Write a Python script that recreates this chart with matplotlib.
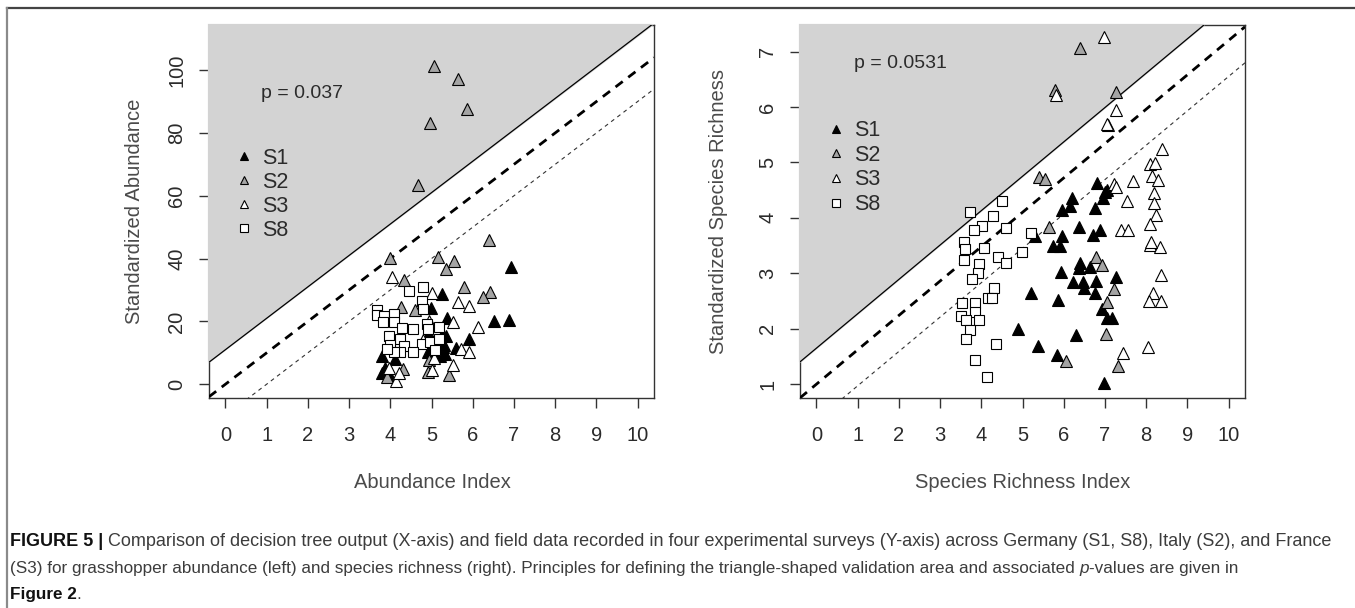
import matplotlib
matplotlib.use("Agg")
import matplotlib.pyplot as plt
from matplotlib.lines import Line2D
import numpy as np

plt.rcParams['font.family'] = ['Liberation Sans', 'DejaVu Sans']
plt.rcParams['lines.scale_dashes'] = False

# ---------------- data: left panel (abundance) ----------------
ab_s1_x = [6.92, 6.51, 6.87, 5.92, 5.25, 4.99, 5.37, 3.79, 3.81, 4.12, 3.87, 5.35, 5.29, 5.17,
           4.88, 4.92, 5.21, 5.59, 5.33, 5.25, 4.95, 5.30, 4.00]
ab_s1_y = [37.3, 20.2, 20.5, 14.4, 28.8, 24.3, 21.1, 9.1, 3.7, 8.0, 5.3, 15.4, 11.9, 13.9,
           14.9, 10.1, 9.1, 11.5, 9.6, 15.8, 16.0, 12.6, 2.5]
ab_s2_x = [5.07, 5.65, 5.86, 4.97, 4.67, 6.40, 4.00, 5.15, 5.55, 5.35, 4.33, 5.79, 6.42, 6.25,
           4.25, 4.61, 4.91, 5.43, 3.93, 4.32, 4.94]
ab_s2_y = [101.3, 97.2, 87.7, 83.2, 63.4, 46.0, 40.1, 40.4, 39.2, 36.7, 33.2, 31.1, 29.3, 27.8,
           24.5, 23.7, 4.0, 3.0, 2.4, 4.8, 7.8]
ab_s3_x = [4.04, 5.65, 5.92, 6.14, 5.51, 5.71, 5.92, 5.53, 4.14, 3.96, 4.20, 5.02, 5.02, 4.95,
           5.05, 4.80]
ab_s3_y = [34.1, 26.3, 25.0, 18.1, 19.7, 11.2, 10.1, 6.2, 1.1, 5.0, 3.5, 4.6, 29.1, 20.0,
           8.3, 14.0]
ab_s8_x = [4.80, 4.45, 3.67, 3.67, 3.85, 4.09, 4.76, 4.79, 3.83, 4.08, 4.28, 4.56, 3.97, 4.24,
           3.99, 4.33, 4.76, 4.96, 5.17, 4.90, 5.17, 4.24, 4.56, 4.08, 3.91, 4.92, 5.09]
ab_s8_y = [30.9, 29.6, 23.6, 22.0, 21.8, 22.4, 26.6, 24.0, 19.7, 19.7, 17.9, 17.6, 15.4, 14.4,
           12.6, 12.3, 12.8, 13.3, 14.4, 19.2, 18.1, 10.1, 10.1, 10.1, 11.2, 17.6, 11.0]

# ---------------- data: right panel (species richness) ----------------
sr_s1_x = [6.81, 7.00, 7.05, 6.96, 6.19, 6.15, 5.97, 6.76, 6.38, 6.88, 6.70, 5.95, 5.75, 5.91,
           5.30, 6.39, 6.38, 6.65, 5.93, 7.26, 6.23, 6.47, 6.78, 6.49, 6.76, 5.20, 5.87, 6.92,
           7.05, 7.18, 6.31, 4.90, 5.38, 5.83, 6.98]
sr_s1_y = [4.63, 4.47, 4.51, 4.35, 4.35, 4.21, 4.14, 4.18, 3.83, 3.78, 3.69, 3.67, 3.50, 3.49,
           3.67, 3.19, 3.09, 3.12, 3.03, 2.94, 2.85, 2.85, 2.86, 2.74, 2.65, 2.65, 2.52, 2.35,
           2.20, 2.20, 1.88, 2.00, 1.69, 1.53, 1.02]
sr_s2_x = [6.39, 5.79, 7.28, 7.07, 5.40, 5.54, 5.65, 6.78, 6.92, 7.22, 7.05, 7.02, 6.05, 7.32]
sr_s2_y = [7.06, 6.31, 6.28, 5.67, 4.74, 4.71, 3.84, 3.30, 3.15, 2.71, 2.49, 1.90, 1.42, 1.33]
sr_s3_x = [6.97, 5.82, 7.28, 7.05, 8.39, 8.10, 8.21, 8.15, 8.29, 7.67, 7.22, 7.28, 8.18, 8.18,
           7.54, 8.23, 8.09, 7.40, 7.56, 8.09, 8.33, 8.13, 8.37, 8.17, 8.07, 8.35, 8.05, 7.43]
sr_s3_y = [7.26, 6.22, 5.95, 5.70, 5.24, 4.97, 4.99, 4.75, 4.69, 4.67, 4.61, 4.56, 4.45, 4.27,
           4.31, 4.05, 3.89, 3.79, 3.79, 3.51, 3.48, 3.57, 2.97, 2.65, 2.50, 2.50, 1.67, 1.57]
sr_s8_x = [3.73, 4.50, 4.28, 4.01, 3.83, 4.59, 5.20, 3.57, 3.61, 4.07, 3.58, 3.95, 4.41, 4.59,
           4.98, 3.93, 3.77, 4.32, 4.17, 4.27, 3.53, 3.85, 3.85, 3.50, 3.63, 3.94, 3.73, 3.62,
           4.35, 3.85, 4.13]
sr_s8_y = [4.11, 4.31, 4.04, 3.85, 3.78, 3.81, 3.73, 3.57, 3.43, 3.45, 3.24, 3.17, 3.29, 3.18,
           3.39, 3.00, 2.90, 2.73, 2.55, 2.56, 2.46, 2.46, 2.30, 2.23, 2.15, 2.15, 1.97, 1.82,
           1.72, 1.43, 1.12]

# reference lines: slope and intercepts (upper, middle, lower)
ab_slope = 10.0
ab_intercepts = [11.0, 0.0, -10.0]
sr_slope = 0.62
sr_intercepts = [1.65, 1.0, 0.35]

x_ticks = list(range(0, 11))
ab_yticks = [0, 20, 40, 60, 80, 100]
sr_yticks = [1, 2, 3, 4, 5, 6, 7]
series_labels = ['S1', 'S2', 'S3', 'S8']
p_texts = ['p = 0.037', 'p = 0.0531']

# ---------------- figure ----------------
W, H = 1355, 608
fig = plt.figure(figsize=(W / 100, H / 100), dpi=100)

def frac_x(px):
    return px / W

def frac_y(py):
    return 1 - py / H

ax_w = (654 - 209) / W
ax_h = (398 - 25) / H
axL = fig.add_axes([frac_x(209), frac_y(398), ax_w, ax_h])
axR = fig.add_axes([frac_x(800), frac_y(398), ax_w, ax_h])

S2_GRAY = '#a4a4a4'
SHADE = '#d3d3d3'
TXT = '#2b2b2b'
LAB = '#4a4a4a'
MS = 8.5
SQ = 7.0

def draw_panel(ax, s1, s2, s3, s8, slope, icepts, ylim, yticks, ptext, ptxt_pos, leg_anchor,
               leg_spacing):
    xlim = (-0.4, 10.4)
    ax.set_xlim(*xlim)
    ax.set_ylim(*ylim)
    # shaded triangle above upper line
    b = icepts[0]
    x0 = xlim[0]
    y0 = b + slope * x0
    xt = (ylim[1] - b) / slope
    poly_x = [x0, x0, xt]
    poly_y = [y0, ylim[1], ylim[1]]
    if xt > xlim[1]:
        poly_x = [x0, x0, xlim[1], xlim[1]]
        poly_y = [y0, ylim[1], ylim[1], b + slope * xlim[1]]
    ax.fill(poly_x, poly_y, facecolor=SHADE, edgecolor=SHADE, linewidth=1.6, zorder=3,
            clip_on=False)
    xs = np.array(xlim)
    ax.plot(xs, icepts[0] + slope * xs, color='black', lw=0.9, zorder=4)
    ax.plot(xs, icepts[1] + slope * xs, color='black', lw=2.0, dashes=(6.5, 5.0), zorder=4)
    ax.plot(xs, icepts[2] + slope * xs, color='#333333', lw=0.8, dashes=(2.8, 2.8), zorder=4)

    ax.plot(s1[0], s1[1], ls='none', marker='^', ms=MS, mfc='black', mec='black', mew=0.8, zorder=5)
    ax.plot(s2[0], s2[1], ls='none', marker='^', ms=MS, mfc=S2_GRAY, mec='black', mew=0.8, zorder=5)
    ax.plot(s3[0], s3[1], ls='none', marker='^', ms=MS, mfc='white', mec='black', mew=0.8, zorder=5)
    ax.plot(s8[0], s8[1], ls='none', marker='s', ms=SQ, mfc='white', mec='black', mew=0.8, zorder=5)

    ax.set_xticks(x_ticks)
    ax.set_yticks(yticks)
    ax.set_xticklabels([str(t) for t in x_ticks])
    ax.set_yticklabels([str(t) for t in yticks], rotation=90, va='center')
    ax.tick_params(axis='both', length=7.5, width=1.0, color='#333333', labelsize=14.5,
                   labelcolor=TXT)
    ax.tick_params(axis='x', pad=13)
    ax.tick_params(axis='y', pad=9)
    for s in ax.spines.values():
        s.set_color('#333333')
        s.set_linewidth(1.0)
        s.set_zorder(2.5)

    ax.text(ptxt_pos[0], ptxt_pos[1], ptext, fontsize=14, color=TXT, va='center', ha='left',
            zorder=6)

    handles = [
        Line2D([], [], ls='none', marker='^', ms=6.4, mfc='black', mec='black', mew=0.8),
        Line2D([], [], ls='none', marker='^', ms=6.4, mfc=S2_GRAY, mec='black', mew=0.8),
        Line2D([], [], ls='none', marker='^', ms=6.4, mfc='white', mec='black', mew=0.8),
        Line2D([], [], ls='none', marker='s', ms=5.2, mfc='white', mec='black', mew=0.8),
    ]
    leg = ax.legend(handles, series_labels, loc='upper left', bbox_to_anchor=leg_anchor,
                    frameon=False, fontsize=15.5, handlelength=0.8, handletextpad=0.42,
                    labelspacing=leg_spacing, borderpad=0, borderaxespad=0)
    leg.set_zorder(7)
    for t in leg.get_texts():
        t.set_color(TXT)

draw_panel(axL, (ab_s1_x, ab_s1_y), (ab_s2_x, ab_s2_y), (ab_s3_x, ab_s3_y), (ab_s8_x, ab_s8_y),
           ab_slope, ab_intercepts, (-4.4, 114.4), ab_yticks, p_texts[0], (0.85, 92.5),
           (0.060, 0.671), 0.14)
draw_panel(axR, (sr_s1_x, sr_s1_y), (sr_s2_x, sr_s2_y), (sr_s3_x, sr_s3_y), (sr_s8_x, sr_s8_y),
           sr_slope, sr_intercepts, (0.75, 7.48), sr_yticks, p_texts[1], (0.9, 6.79),
           (0.062, 0.745), 0.17)

# axis titles
fig.text(frac_x(432), frac_y(482), 'Abundance Index', fontsize=14.5, color=LAB, ha='center', va='center')
fig.text(frac_x(1023), frac_y(482), 'Species Richness Index', fontsize=14.5, color=LAB, ha='center', va='center')
fig.text(frac_x(134), frac_y(211), 'Standardized Abundance', fontsize=14.5, color=LAB, ha='center',
         va='center', rotation=90)
fig.text(frac_x(719), frac_y(211), 'Standardized Species Richness', fontsize=14.5, color=LAB,
         ha='center', va='center', rotation=90)

# outer frame (top and left edges)
fig.add_artist(Line2D([frac_x(7), 1.0], [frac_y(8), frac_y(8)], color='#444444', lw=1.6))
fig.add_artist(Line2D([frac_x(7), frac_x(7)], [0.0, frac_y(8)], color='#8a8a8a', lw=1.6))

# caption
CAP1 = 13.0
CAP = 12.3
CAPC = '#3c3c3c'
t1 = fig.text(frac_x(10), frac_y(546), 'FIGURE 5 |', fontsize=CAP1, fontweight='bold', color='#111111',
              va='baseline', ha='left')
a1 = plt.annotate(' Comparison of decision tree output (X-axis) and field data recorded in four experimental '
                  'surveys (Y-axis) across Germany (S1, S8), Italy (S2), and France',
                  xy=(1, 0), xycoords=t1, fontsize=CAP1, color=CAPC, va='bottom', ha='left',
                  annotation_clip=False)
l2 = fig.text(frac_x(10), frac_y(573), '(S3) for grasshopper abundance (left) and species richness (right). '
              'Principles for defining the triangle-shaped validation area and associated ',
              fontsize=CAP, color=CAPC, va='baseline', ha='left')
a2 = plt.annotate('p', xy=(1, 0), xycoords=l2, fontsize=CAP, color=CAPC, style='italic',
                  va='bottom', ha='left', annotation_clip=False)
a3 = plt.annotate('-values are given in', xy=(1, 0), xycoords=a2, fontsize=CAP, color=CAPC,
                  va='bottom', ha='left', annotation_clip=False)
l3 = fig.text(frac_x(10), frac_y(599), 'Figure 2', fontsize=CAP, fontweight='bold', color='#111111',
              va='baseline', ha='left')
a4 = plt.annotate('.', xy=(1, 0), xycoords=l3, fontsize=CAP, color=CAPC, va='bottom', ha='left',
                  annotation_clip=False)

fig.savefig('out.png', dpi=100)
